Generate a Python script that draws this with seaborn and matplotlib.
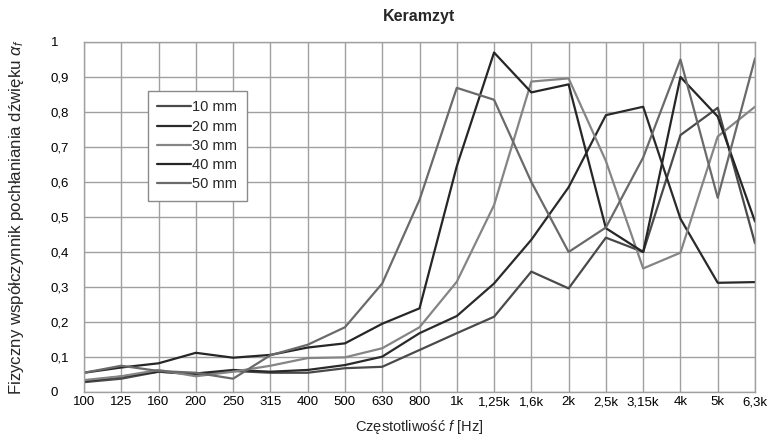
import numpy as np
import pandas as pd
import matplotlib
matplotlib.use("Agg")
import matplotlib.pyplot as plt
import seaborn as sns

categories = ["100", "125", "160", "200", "250", "315", "400", "500", "630", "800",
              "1k", "1,25k", "1,6k", "2k", "2,5k", "3,15k", "4k", "5k", "6,3k"]

mm10 = [0.028, 0.038, 0.058, 0.050, 0.060, 0.055, 0.055, 0.068, 0.072, 0.120,
        0.168, 0.215, 0.344, 0.296, 0.441, 0.400, 0.734, 0.812, 0.425]
mm20 = [0.031, 0.044, 0.058, 0.053, 0.063, 0.058, 0.063, 0.077, 0.101, 0.168,
        0.217, 0.310, 0.435, 0.585, 0.791, 0.815, 0.495, 0.312, 0.314]
mm30 = [0.034, 0.045, 0.063, 0.045, 0.058, 0.075, 0.097, 0.099, 0.125, 0.185,
        0.315, 0.534, 0.887, 0.896, 0.660, 0.353, 0.398, 0.730, 0.815]
mm40 = [0.055, 0.070, 0.082, 0.112, 0.098, 0.106, 0.127, 0.139, 0.195, 0.239,
        0.645, 0.970, 0.856, 0.879, 0.468, 0.400, 0.900, 0.787, 0.487]
mm50 = [0.055, 0.075, 0.060, 0.055, 0.038, 0.105, 0.135, 0.185, 0.310, 0.549,
        0.869, 0.835, 0.600, 0.400, 0.470, 0.670, 0.950, 0.555, 0.953]

series_names = ["10 mm", "20 mm", "30 mm", "40 mm", "50 mm"]
series_values = [mm10, mm20, mm30, mm40, mm50]
colors = {"10 mm": "#4a4a4a", "20 mm": "#2a2a2a", "30 mm": "#858585",
          "40 mm": "#262626", "50 mm": "#6a6a6a"}

yticks = [0, 0.1, 0.2, 0.3, 0.4, 0.5, 0.6, 0.7, 0.8, 0.9, 1.0]
ytick_labels = ["0", "0,1", "0,2", "0,3", "0,4", "0,5", "0,6", "0,7", "0,8", "0,9", "1"]

rows = []
for name, vals in zip(series_names, series_values):
    for c, v in zip(categories, vals):
        rows.append({"freq": c, "alpha": v, "series": name})
df = pd.DataFrame(rows)

sns.set_style("white")
plt.rcParams["font.family"] = ["Liberation Sans", "DejaVu Sans"]
plt.rcParams["mathtext.fontset"] = "custom"
plt.rcParams["mathtext.it"] = "Liberation Sans:italic"
plt.rcParams["mathtext.rm"] = "Liberation Sans"

fig = plt.figure(figsize=(7.77, 4.38), dpi=100)
ax = fig.add_axes([84 / 777, 1 - 392 / 438, 671 / 777, 350 / 438])

sns.lineplot(data=df, x="freq", y="alpha", hue="series", hue_order=series_names,
             palette=colors, sort=False, linewidth=1.6, ax=ax)

ax.set_xlim(0, len(categories) - 1)
ax.set_ylim(0, 1)
ax.set_yticks(yticks)
ax.set_yticklabels(ytick_labels)
ax.grid(True, color="#a0a0a0", linewidth=1.0)
ax.set_axisbelow(True)
for sp in ax.spines.values():
    sp.set_color("#a0a0a0")
    sp.set_linewidth(1.0)

ax.tick_params(axis="both", length=0, labelsize=9.5, colors="black")
ax.tick_params(axis="x", pad=3)
ax.tick_params(axis="y", pad=24)
for lbl in ax.get_yticklabels():
    lbl.set_horizontalalignment("left")

ax.set_title("Keramzyt", fontsize=11.5, fontweight="bold", pad=15)
ax.set_xlabel("Częstotliwość $f$ [Hz]", fontsize=10.5, labelpad=7)
ax.set_ylabel("Fizyczny współczynnik pochłaniania dźwięku $\\alpha_f$", fontsize=12.2)
ax.yaxis.set_label_coords(-0.086, 0.5)

handles, labels = ax.get_legend_handles_labels()
leg = ax.legend(handles, labels, loc="upper left", bbox_to_anchor=(0.095, 0.86),
                borderaxespad=0, fontsize=10.5, frameon=True, fancybox=False,
                edgecolor="#8a8a8a", framealpha=1, handlelength=2.3,
                handletextpad=0.1, labelspacing=0.36, borderpad=0.65)
leg.get_frame().set_linewidth(1.0)

fig.savefig("out.png", dpi=100)
